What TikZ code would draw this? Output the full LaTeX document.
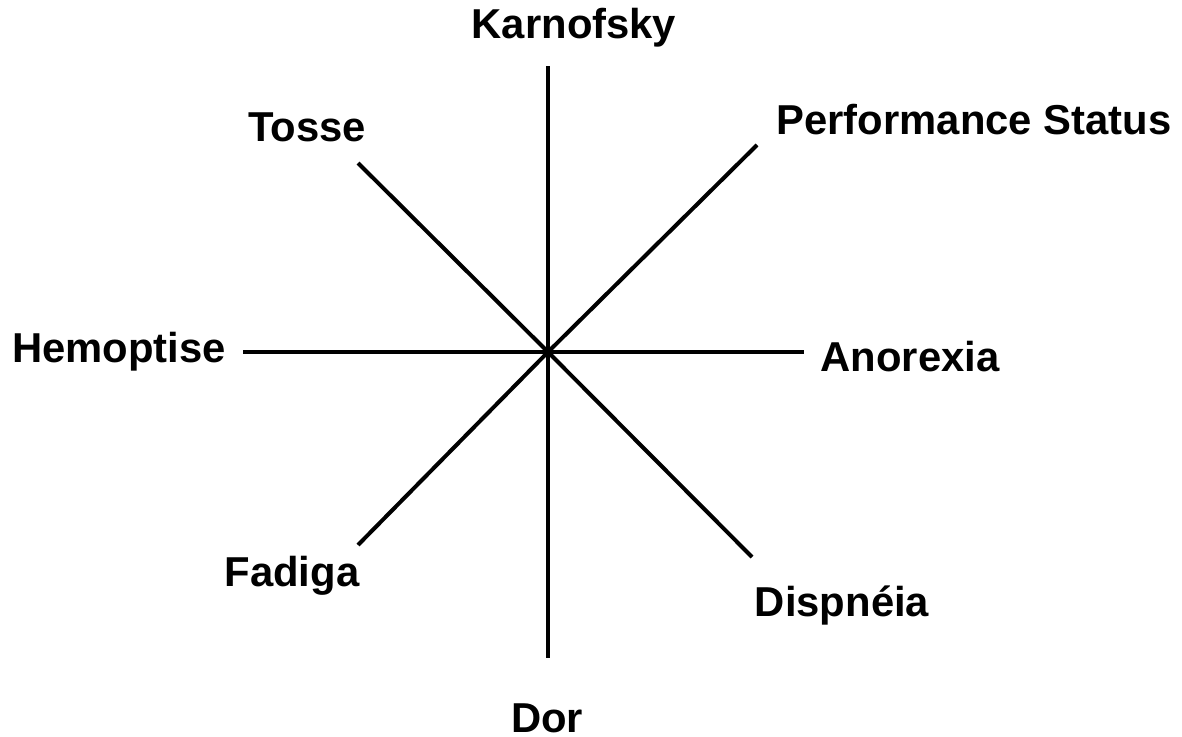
\documentclass[tikz,border=0pt]{standalone}
\usepackage{fontspec}
\setmainfont{Liberation Sans}
\begin{document}
\begin{tikzpicture}[x=1pt,y=-1pt,
  axis/.style={line width=4pt},
  lab/.style={font=\fontsize{41.8}{48}\selectfont\bfseries, inner sep=0pt}]
\useasboundingbox (0,0) rectangle (1182,736);
% centre of the star and the outer ends of its eight spokes
\coordinate (c) at (548,352);
\coordinate (n) at (548,66);
\coordinate (s) at (548,658);
\coordinate (w) at (243,352);
\coordinate (e) at (804,352);
\coordinate (ne) at (757,145);
\coordinate (nw) at (358,163);
\coordinate (sw) at (358,545);
\coordinate (se) at (752,557);
\foreach \p in {n,s,w,e,ne,nw,sw,se} \draw[axis] (c) -- (\p);
% axis labels
\node[lab] (karnofsky) at (574,28) {Karnofsky};
\node[lab] (tosse) at (307,127) {Tosse};
\node[lab] (ps) at (974,120) {Performance Status};
\node[lab] (hemoptise) at (119,352) {Hemoptise};
\node[lab] (anorexia) at (910,357) {Anorexia};
\node[lab] (fadiga) at (292,576) {Fadiga};
\node[lab] (dispneia) at (842,605) {Dispnéia};
\node[lab] (dor) at (547,718) {Dor};
\end{tikzpicture}
\end{document}
